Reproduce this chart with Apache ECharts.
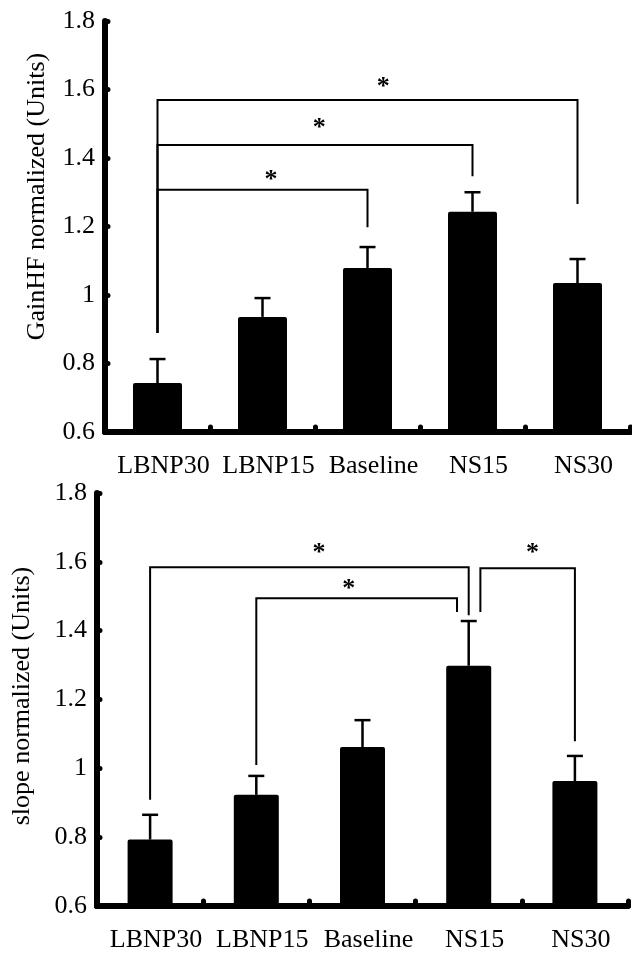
<!DOCTYPE html>
<html><head><meta charset="utf-8">
<script src="https://cdn.jsdelivr.net/npm/echarts@6/dist/echarts.min.js"></script>
<style>html,body{margin:0;padding:0;background:#fff}#c{width:632px;height:953px}</style>
</head><body><div id="c"></div>
<script>
// ---- data ----
const categories = ['LBNP30', 'LBNP15', 'Baseline', 'NS15', 'NS30'];
const yTicks = [0.6, 0.8, 1, 1.2, 1.4, 1.6, 1.8];

const gainMean = [0.743, 0.936, 1.079, 1.243, 1.035];
const gainSE   = [0.070, 0.055, 0.061, 0.057, 0.070];
// [fromIndex, toIndex, bracketLevel, leftDropTo, rightDropTo]
const gainBrackets = [
  [0, 2, 1.307, 0.889, 1.198],
  [0, 3, 1.438, 0.889, 1.347],
  [0, 4, 1.569, 0.889, 1.266]
];
// [indexPosition, value]
const gainStars = [[1.08, 1.35], [1.54, 1.50], [2.15, 1.62]];

const slopeMean = [0.793, 0.923, 1.062, 1.298, 0.963];
const slopeSE   = [0.072, 0.055, 0.078, 0.130, 0.073];
const slopeBrackets = [
  [0, 3, 1.584, 0.909, 1.445],
  [1, 2.89, 1.494, 1.010, 1.454],
  [3.11, 4, 1.581, 1.454, 1.079]
];
const slopeStars = [[1.59, 1.64], [1.87, 1.535], [3.60, 1.64]];

// ---- styles ----
const FONT = "'Liberation Serif', 'Times New Roman', serif";
const BLACK = '#000';

function errRender(params, api) {
  const i = api.value(0), m = api.value(1), se = api.value(2);
  const b = api.coord([i, m]), t = api.coord([i, m + se]);
  const st = { stroke: BLACK, lineWidth: 2.5, fill: null };
  return { type: 'group', children: [
    { type: 'line', shape: { x1: b[0], y1: b[1], x2: t[0], y2: t[1] }, style: st },
    { type: 'line', shape: { x1: t[0] - 8, y1: t[1], x2: t[0] + 8, y2: t[1] }, style: st }
  ]};
}
function bracketRender(params, api) {
  const x1 = api.value(0), x2 = api.value(1), lvl = api.value(2), l = api.value(3), r = api.value(4);
  const pts = [api.coord([x1, l]), api.coord([x1, lvl]), api.coord([x2, lvl]), api.coord([x2, r])];
  return { type: 'polyline', shape: { points: pts }, style: { stroke: BLACK, lineWidth: 2, fill: null } };
}
function starRender(params, api) {
  const p = api.coord([api.value(0), api.value(1)]);
  return { type: 'text', x: p[0], y: p[1] + 5, style: {
    text: '*', fill: BLACK, font: 'bold 26px ' + FONT, fontSize: 26, fontWeight: 'bold', fontFamily: FONT,
    align: 'center', verticalAlign: 'middle', textAlign: 'center', textVerticalAlign: 'middle' } };
}

function catAxis(g) {
  return {
    type: 'category', gridIndex: g, data: categories, boundaryGap: true,
    axisLine: { show: true, onZero: false, lineStyle: { color: BLACK, width: 6 } },
    axisTick: { show: true, inside: true, length: 5, alignWithLabel: false, lineStyle: { color: BLACK, width: 5, cap: 'round' } },
    axisLabel: { color: BLACK, fontSize: 26, fontFamily: FONT, margin: 21, padding: [0, 0, 0, 12], interval: 0 },
    splitLine: { show: false }
  };
}
function idxAxis(g) {
  return { type: 'value', gridIndex: g, min: -0.5, max: 4.5, show: false,
    axisLine: { onZero: false }, splitLine: { show: false } };
}
function valAxis(g, name, gap, shift) {
  return {
    type: 'value', gridIndex: g, min: yTicks[0], max: yTicks[yTicks.length - 1], interval: 0.2,
    name: name, nameLocation: 'middle', nameGap: gap,
    nameTextStyle: { color: BLACK, fontSize: 26, fontFamily: FONT, padding: [0, 0, 0, shift] },
    axisLine: { show: true, onZero: false, lineStyle: { color: BLACK, width: 6 } },
    axisTick: { show: true, inside: true, length: 3, lineStyle: { color: BLACK, width: 5, cap: 'round' } },
    axisLabel: { color: BLACK, fontSize: 26, fontFamily: FONT, margin: 10 },
    splitLine: { show: false }
  };
}

const option = {
  backgroundColor: '#fff',
  animation: false,
  grid: [
    { left: 105, width: 525, top: 21, height: 411 },
    { left: 97, width: 531, top: 493, height: 416 }
  ],
  xAxis: [catAxis(0), catAxis(1), idxAxis(0), idxAxis(1)],
  yAxis: [
    valAxis(0, 'GainHF normalized (Units)', 55, 60),
    valAxis(1, 'slope normalized (Units)', 62, 7)
  ],
  series: [
    { type: 'bar', xAxisIndex: 0, yAxisIndex: 0, data: gainMean, barWidth: 49,
      itemStyle: { color: BLACK, borderRadius: 2 }, z: 3 },
    { type: 'custom', xAxisIndex: 0, yAxisIndex: 0, renderItem: errRender, z: 2,
      data: gainMean.map((m, i) => [i, m, gainSE[i]]) },
    { type: 'custom', xAxisIndex: 2, yAxisIndex: 0, renderItem: bracketRender, z: 4, data: gainBrackets },
    { type: 'custom', xAxisIndex: 2, yAxisIndex: 0, renderItem: starRender, z: 4, data: gainStars },

    { type: 'bar', xAxisIndex: 1, yAxisIndex: 1, data: slopeMean, barWidth: 45,
      itemStyle: { color: BLACK, borderRadius: 2 }, z: 3 },
    { type: 'custom', xAxisIndex: 1, yAxisIndex: 1, renderItem: errRender, z: 2,
      data: slopeMean.map((m, i) => [i, m, slopeSE[i]]) },
    { type: 'custom', xAxisIndex: 3, yAxisIndex: 1, renderItem: bracketRender, z: 4, data: slopeBrackets },
    { type: 'custom', xAxisIndex: 3, yAxisIndex: 1, renderItem: starRender, z: 4, data: slopeStars }
  ]
};
const chart = echarts.init(document.getElementById('c'), null, { renderer: 'canvas' });
chart.setOption(option);
</script>
</body></html>
